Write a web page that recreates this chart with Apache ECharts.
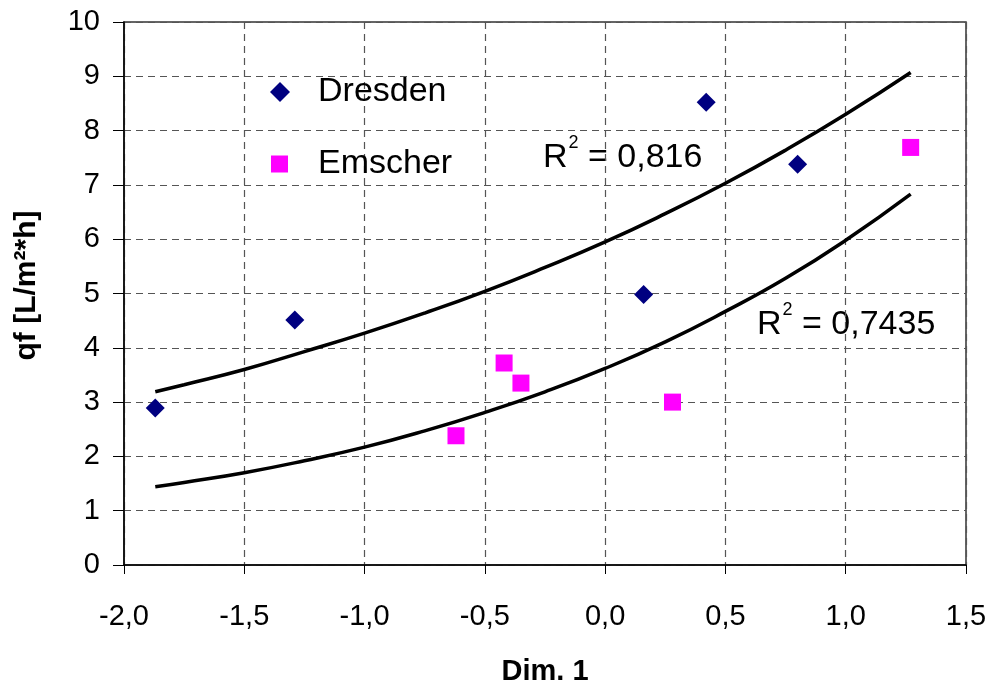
<!DOCTYPE html>
<html>
<head>
<meta charset="utf-8">
<script src="https://cdn.jsdelivr.net/npm/echarts@6/dist/echarts.min.js"></script>
<style>
  html, body { margin: 0; padding: 0; background: #fff; }
  #chart { width: 995px; height: 691px; }
</style>
</head>
<body>
<div id="chart"></div>
<script>
var FONT = '"Liberation Sans", Arial, sans-serif';

// measured points [Dim. 1, qf]
var dresden = [
  [-1.87, 2.89],
  [-1.29, 4.51],
  [0.16, 4.98],
  [0.42, 8.52],
  [0.80, 7.38]
];
var emscher = [
  [-0.62, 2.38],
  [-0.42, 3.72],
  [-0.35, 3.35],
  [0.28, 3.00],
  [1.27, 7.69]
];

// trend curves
var trendDresden = [
  [-1.87, 3.19], [-1.75, 3.32], [-1.5, 3.60], [-1.25, 3.93], [-1.0, 4.27],
  [-0.75, 4.64], [-0.5, 5.04], [-0.25, 5.48], [0, 5.95], [0.25, 6.47],
  [0.5, 7.03], [0.75, 7.64], [1.0, 8.30], [1.27, 9.07]
];
var trendEmscher = [
  [-1.87, 1.44], [-1.75, 1.52], [-1.5, 1.70], [-1.25, 1.92], [-1.0, 2.17],
  [-0.75, 2.47], [-0.5, 2.81], [-0.25, 3.19], [0, 3.62], [0.25, 4.11],
  [0.5, 4.67], [0.75, 5.28], [1.0, 5.98], [1.27, 6.83]
];

var r2Labels = ['0,816', '0,7435'];

var chart = echarts.init(document.getElementById('chart'), null, { renderer: 'canvas' });

function commaFmt(v) {
  return v.toFixed(1).replace('.', ',');
}

// R² label: big text + raised small "2"
var r2Rich = {
  r: { fontFamily: FONT, fontSize: 34, color: '#000', lineHeight: 48 },
  s: { fontFamily: FONT, fontSize: 18, color: '#000', lineHeight: 20, verticalAlign: 'top', padding: [0, 0, 0, 1] }
};

var option = {
  backgroundColor: '#fff',
  animation: false,
  grid: {
    left: 124,
    right: 29,
    top: 22,
    bottom: 126,
    show: true,
    borderColor: '#333',
    borderWidth: 1.5
  },
  legend: [{
    data: [{ name: 'Dresden', icon: 'diamond' }],
    left: 265,
    top: 70,
    itemWidth: 20,
    itemHeight: 20,
    textStyle: { fontFamily: FONT, fontSize: 34, color: '#000', padding: [0, 0, 0, 23] }
  }, {
    data: [{ name: 'Emscher', icon: 'rect' }],
    left: 266,
    top: 142,
    itemWidth: 17,
    itemHeight: 17,
    textStyle: { fontFamily: FONT, fontSize: 34, color: '#000', padding: [0, 0, 0, 25] }
  }],
  xAxis: {
    type: 'value',
    min: -2,
    max: 1.5,
    interval: 0.5,
    name: 'Dim. 1',
    nameLocation: 'middle',
    nameGap: 92,
    nameTextStyle: { fontFamily: FONT, fontSize: 29, fontWeight: 'bold', color: '#000' },
    axisLine: { onZero: false, lineStyle: { color: '#000', width: 1.5 } },
    axisTick: { show: true, length: 9, lineStyle: { color: '#000', width: 1 } },
    axisLabel: { fontFamily: FONT, fontSize: 29, color: '#000', margin: 37, formatter: commaFmt },
    splitLine: { show: true, lineStyle: { color: '#555', width: 1.2, type: [7, 5] } }
  },
  yAxis: {
    type: 'value',
    min: 0,
    max: 10,
    interval: 1,
    name: 'qf [L/m²*h]',
    nameLocation: 'middle',
    nameGap: 82,
    nameTextStyle: { fontFamily: FONT, fontSize: 30, fontWeight: 'bold', color: '#000', padding: [0, 0, 0, 16] },
    axisLine: { onZero: false, lineStyle: { color: '#000', width: 1.5 } },
    axisTick: { show: true, length: 11, lineStyle: { color: '#000', width: 1 } },
    axisLabel: { fontFamily: FONT, fontSize: 29, color: '#000', margin: 24 },
    splitLine: { show: true, lineStyle: { color: '#555', width: 1.2, type: [7, 5] } }
  },
  graphic: [{
    type: 'text',
    left: 543,
    top: 134,
    style: { text: '{r|R}{s|2}{r| = ' + r2Labels[0] + '}', rich: r2Rich }
  }, {
    type: 'text',
    left: 757,
    top: 301,
    style: { text: '{r|R}{s|2}{r| = ' + r2Labels[1] + '}', rich: r2Rich }
  }],
  series: [{
    name: 'trendDresden',
    type: 'line',
    data: trendDresden,
    smooth: true,
    showSymbol: false,
    silent: true,
    lineStyle: { color: '#000', width: 3.5 },
    z: 2
  }, {
    name: 'trendEmscher',
    type: 'line',
    data: trendEmscher,
    smooth: true,
    showSymbol: false,
    silent: true,
    lineStyle: { color: '#000', width: 3.5 },
    z: 2
  }, {
    name: 'Dresden',
    type: 'scatter',
    data: dresden,
    symbol: 'diamond',
    symbolSize: 19,
    itemStyle: { color: '#000080', opacity: 1 },
    z: 3
  }, {
    name: 'Emscher',
    type: 'scatter',
    data: emscher,
    symbol: 'rect',
    symbolSize: 17,
    itemStyle: { color: '#ff00ff', opacity: 1 },
    z: 3
  }]
};

chart.setOption(option);
</script>
</body>
</html>
